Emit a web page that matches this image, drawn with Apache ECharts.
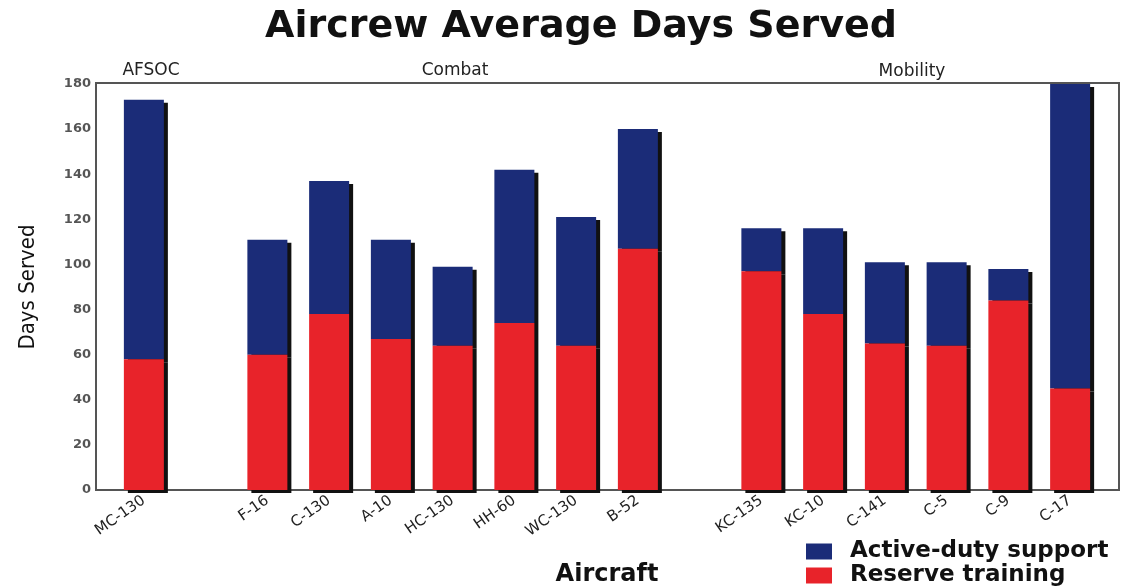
<!DOCTYPE html>
<html>
<head>
<meta charset="utf-8">
<title>Aircrew Average Days Served</title>
<script src="https://cdn.jsdelivr.net/npm/echarts@6/dist/echarts.min.js"></script>
<style>
  html, body { margin: 0; padding: 0; background: #fff; }
  #main { width: 1124px; height: 588px; }
</style>
</head>
<body>
<div id="main"></div>
<script>
// aircraft, blank slots separate AFSOC / Combat / Mobility
const aircraft = ['MC-130', ' ', 'F-16', 'C-130', 'A-10', 'HC-130', 'HH-60', 'WC-130', 'B-52', '  ',
  'KC-135', 'KC-10', 'C-141', 'C-5', 'C-9', 'C-17'];
const reserveTraining = [58, null, 60, 78, 67, 64, 74, 64, 107, null, 97, 78, 65, 64, 84, 45];
const activeDuty = [115, null, 51, 59, 44, 35, 68, 57, 53, null, 19, 38, 36, 37, 14, 135];
const groups = ['AFSOC', 'Combat', 'Mobility'];
const yTicks = [0, 20, 40, 60, 80, 100, 120, 140, 160, 180];

const blue = '#1b2c78';
const red = '#e8232a';

let myChart = echarts.init(document.getElementById('main'));

let barShadow = {
  shadowColor: '#111',
  shadowBlur: 0,
  shadowOffsetX: 4,
  shadowOffsetY: 3
};

// group label style
let groupFont = '17px "DejaVu Sans"';

let option = {
  backgroundColor: '#fff',
  animation: false,
  title: {
    text: 'Aircrew Average Days Served',
    left: 260,
    top: 3,
    textStyle: {
      fontFamily: 'DejaVu Sans',
      fontWeight: 'bold',
      fontSize: 38,
      color: '#111'
    }
  },
  legend: {
    data: ['Active-duty support', 'Reserve training'],
    orient: 'vertical',
    left: 806,
    top: 540,
    padding: 0,
    icon: 'rect',
    itemWidth: 26,
    itemHeight: 16,
    itemGap: 1,
    textStyle: {
      fontFamily: 'DejaVu Sans',
      fontWeight: 'bold',
      fontSize: 23,
      lineHeight: 23,
      color: '#111',
      padding: [0, 0, 0, 13]
    }
  },
  grid: {
    left: 113,
    right: 23,
    top: 84,
    bottom: 98,
    outerBoundsMode: 'none',
    containLabel: false
  },
  xAxis: {
    type: 'category',
    data: aircraft,
    axisLine: {show: false},
    axisTick: {show: false},
    axisLabel: {
      rotate: 35,
      interval: 0,
      margin: 9,
      fontFamily: 'DejaVu Sans',
      fontSize: 15,
      color: '#222'
    },
    name: 'Aircraft',
    nameLocation: 'middle',
    nameGap: 73,
    nameTextStyle: {
      fontFamily: 'DejaVu Sans',
      fontWeight: 'bold',
      fontSize: 24,
      color: '#111'
    }
  },
  yAxis: {
    type: 'value',
    min: yTicks[0],
    max: yTicks[yTicks.length - 1],
    interval: 20,
    offset: 17,
    axisLine: {show: false},
    axisTick: {show: false},
    splitLine: {show: false},
    axisLabel: {
      margin: 5,
      fontFamily: 'DejaVu Sans',
      fontWeight: 'bold',
      fontSize: 13,
      color: '#555'
    },
    name: 'Days Served',
    nameLocation: 'middle',
    nameRotate: 90,
    nameGap: 57,
    nameTextStyle: {
      fontFamily: '"DejaVu Sans Condensed", "Liberation Sans", sans-serif',
      fontSize: 22,
      color: '#111'
    }
  },
  graphic: [
    {
      type: 'rect',
      z: 1,
      shape: {x: 96, y: 83, width: 1023, height: 407},
      style: {fill: null, stroke: '#555', lineWidth: 2}
    },
    {type: 'text', x: 151, y: 62, style: {text: groups[0], font: groupFont, fill: '#222', align: 'center'}},
    {type: 'text', x: 455, y: 62, style: {text: groups[1], font: groupFont, fill: '#222', align: 'center'}},
    {type: 'text', x: 912, y: 63, style: {text: groups[2], font: groupFont, fill: '#222', align: 'center'}}
  ],
  series: [
    {
      name: 'Reserve training',
      type: 'bar',
      stack: 'days',
      barWidth: 40,
      z: 3,
      itemStyle: Object.assign({color: red}, barShadow),
      data: reserveTraining
    },
    {
      name: 'Active-duty support',
      type: 'bar',
      stack: 'days',
      barWidth: 40,
      z: 2,
      itemStyle: Object.assign({color: blue}, barShadow),
      data: activeDuty
    }
  ]
};

myChart.setOption(option);
</script>
</body>
</html>
